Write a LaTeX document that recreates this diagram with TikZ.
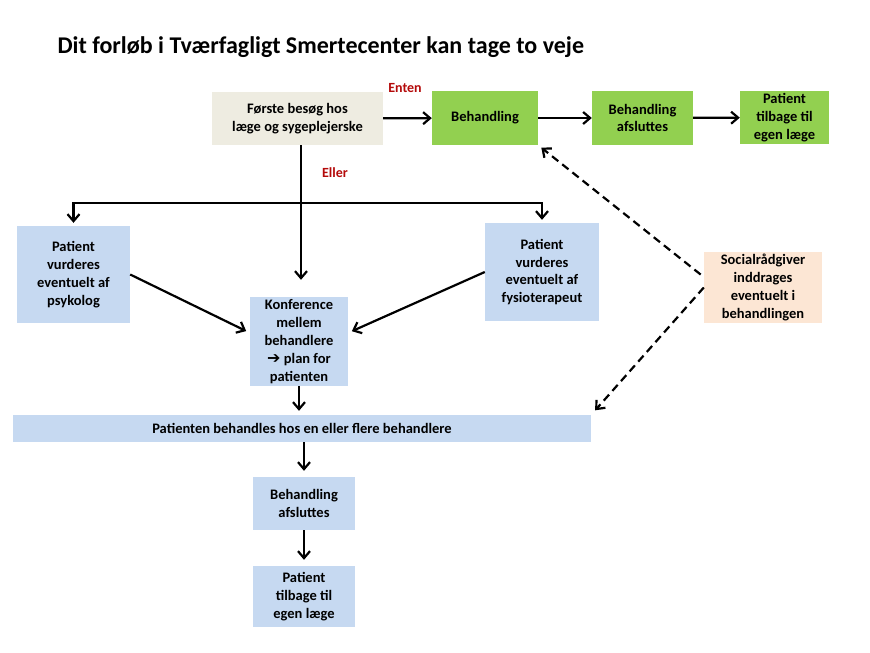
\documentclass[tikz,border=0pt]{standalone}
\usepackage{fontspec}
\setmainfont{Carlito}
\usetikzlibrary{arrows.meta}
\definecolor{beigeColor}{RGB}{238,236,225}
\definecolor{greenColor}{RGB}{146,208,80}
\definecolor{blueColor}{RGB}{198,217,241}
\definecolor{peachColor}{RGB}{252,230,212}
\definecolor{redColor}{RGB}{180,10,10}

\begin{document}
\begin{tikzpicture}[x=1pt, y=-1pt,
    box/.style={inner sep=0pt, align=center, font=\bfseries\fontsize{14.5}{17.8}\selectfont},
    arr/.style={-{Straight Barb[length=7pt, width=12pt]}, line width=2.2pt},
    dasharr/.style={arr, dash pattern=on 8pt off 5pt}]
    \useasboundingbox (0,0) rectangle (870,653);
    \node[anchor=west, font=\bfseries\fontsize{24}{28}\selectfont] (title) at (54,47) {Dit forløb i Tværfagligt Smertecenter kan tage to veje};
    % top row
    \node[box, fill=beigeColor, minimum width=171pt, minimum height=53pt] (besog) at (297.5,118.5) {Første besøg hos\\læge og sygeplejerske};
    \node[box, fill=greenColor, minimum width=106pt, minimum height=54pt] (beh1) at (485,118) {Behandling};
    \node[box, fill=greenColor, minimum width=101pt, minimum height=54pt] (beh2) at (642.5,118) {Behandling\\afsluttes};
    \node[box, fill=greenColor, minimum width=89pt, minimum height=53pt] (pat1) at (784.5,117.5) {Patient\\tilbage til\\egen læge};
    \node[font=\bfseries\fontsize{14}{16}\selectfont, text=redColor] (enten) at (405,88) {Enten};
    \node[font=\bfseries\fontsize{14}{16}\selectfont, text=redColor] (eller) at (335,173) {Eller};
    % second route
    \node[box, fill=blueColor, minimum width=113pt, minimum height=97pt] (psy) at (73.5,274.5) {Patient\\vurderes\\eventuelt af\\psykolog};
    \node[box, fill=blueColor, minimum width=114pt, minimum height=98pt] (fys) at (542,272) {Patient\\vurderes\\eventuelt af\\fysioterapeut};
    \node[box, fill=blueColor, minimum width=98pt, minimum height=89pt] (konf) at (299,341.5) {Konference\\mellem\\behandlere\\{\fontspec{DejaVu Sans}\fontsize{16}{12}\selectfont ➔}\ plan for\\patienten};
    \node[box, fill=blueColor, minimum width=578pt, minimum height=27pt] (patbeh) at (302,428.5) {Patienten behandles hos en eller flere behandlere};
    \node[box, fill=blueColor, minimum width=102pt, minimum height=53pt] (afsl) at (304,503.5) {Behandling\\afsluttes};
    \node[box, fill=blueColor, minimum width=102pt, minimum height=61pt] (pat2) at (304,596.5) {Patient\\tilbage til\\egen læge};
    \node[box, fill=peachColor, minimum width=118pt, minimum height=71pt] (social) at (763,287.5) {Socialrådgiver\\inddrages\\eventuelt i\\behandlingen};
    \coordinate (split) at (301,203);
    % connectors
    \draw[arr] (besog) -- (beh1);
    \draw[arr] (beh1) -- (beh2);
    \draw[arr] (beh2) -- (pat1);
    \draw[line width=2.2pt] (besog.south -| split) -- (split);
    \draw[line width=2.2pt, line cap=rect] (split -| psy.north) -- (split -| fys.north);
    \draw[arr, shorten >=17pt] (split) -- (split |- konf.north);
    \draw[arr, shorten >=3pt] (split -| psy.north) -- (psy.north);
    \draw[arr, shorten >=3pt] (split -| fys.north) -- (fys.north);
    \draw[arr, shorten >=4pt] (psy.east) -- (konf.170);
    \draw[arr, shorten >=4pt] (fys.west) -- (konf.10);
    \draw[arr, shorten >=4pt] (konf.south) -- (konf.south |- patbeh.north);
    \draw[arr, shorten >=6pt] (afsl.north |- patbeh.south) -- (afsl.north);
    \draw[arr, shorten >=6pt] (afsl.south) -- (pat2.north);
    \draw[dasharr, shorten <=4pt, shorten >=4pt] (social.170) -- (beh1.south east);
    \draw[dasharr, shorten >=6pt] (social.west) -- (patbeh.north east);
\end{tikzpicture}
\end{document}
